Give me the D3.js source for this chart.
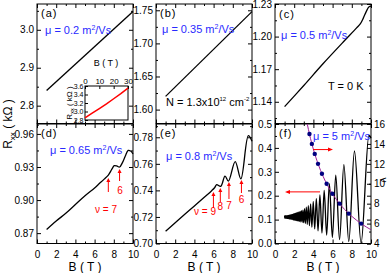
<!DOCTYPE html>
<html><head><meta charset="utf-8">
<script src="https://cdn.jsdelivr.net/npm/d3@7/dist/d3.min.js"></script>
<style>
body{margin:0;background:#fff}
svg{display:block}
text{font-family:"Liberation Sans",Arial,Helvetica,sans-serif}
</style>
</head><body>
<svg id="c" width="390" height="273"></svg>
<script>
// ---------------- DATA ----------------
const xTicks = [0, 2, 4, 6, 8, 10];
const xMinor = [1, 3, 5, 7, 9];

const bA = [1, 10], rA = [2.840, 3.048];
const bInset = [0, 5, 10, 15, 20, 25, 30];
const rInset = [2.85, 2.96, 3.07, 3.18, 3.30, 3.42, 3.55];
const insetXTicks = [0, 10, 20, 30];
const insetYTicks = [2.8, 3.0, 3.2, 3.4, 3.6];

const bB = [1, 10], rB = [1.620, 1.748];
const bC = [1, 3, 5, 7, 8.5, 8.9, 9.2, 9.5, 9.8, 10];
const rC = [1.1355, 1.155, 1.175, 1.194, 1.208, 1.212, 1.217, 1.223, 1.2275, 1.228];
const bD = [1, 2, 3, 4, 5, 6, 6.5, 7, 7.43, 7.8, 8.05, 8.3, 8.6, 8.9, 9.2, 9.5, 9.75, 10];
const rD = [0.8733, 0.881, 0.888, 0.896, 0.904, 0.911, 0.915, 0.919, 0.9227, 0.928, 0.9312, 0.931, 0.930, 0.934, 0.940, 0.945, 0.9445, 0.942];
const bE = [1, 2, 3, 4, 5, 5.8, 6.1, 6.32, 6.74, 7.19, 7.54, 8.25, 8.84, 9.62, 10];
const rE = [0.7092, 0.7156, 0.722, 0.7283, 0.7347, 0.7398, 0.742, 0.7443, 0.743, 0.7508, 0.747, 0.7617, 0.7487, 0.7812, 0.777];

// panel (f): extrema of the oscillating Rxx trace
const fB = [1.000,1.006,1.015,1.025,1.035,1.045,1.055,1.065,1.076,1.087,1.098,1.109,1.121,1.133,1.145,1.157,1.170,1.182,1.196,1.209,1.223,1.237,1.251,1.266,1.281,1.296,1.312,1.328,1.345,1.362,1.379,1.397,1.416,1.435,1.454,1.474,1.494,1.515,1.537,1.559,1.582,1.606,1.630,1.655,1.681,1.708,1.735,1.764,1.793,1.824,1.855,1.888,1.921,1.956,1.993,2.030,2.069,2.110,2.152,2.196,2.242,2.289,2.339,2.391,2.445,2.502,2.562,2.624,2.690,2.759,2.832,2.908,2.989,3.074,3.165,3.261,3.363,3.471,3.587,3.710,3.843,3.985,4.138,4.304,4.483,4.678,4.891,5.124,5.380,5.663,5.978,6.329,6.725,7.173,7.686,8.277,8.967,9.782,10.0];
const fR = [0.111,0.115,0.106,0.115,0.106,0.115,0.106,0.115,0.106,0.115,0.106,0.116,0.106,0.116,0.106,0.116,0.106,0.116,0.106,0.116,0.105,0.116,0.105,0.116,0.105,0.116,0.105,0.117,0.105,0.117,0.105,0.117,0.104,0.118,0.104,0.118,0.103,0.119,0.103,0.119,0.103,0.120,0.102,0.120,0.102,0.121,0.101,0.121,0.101,0.122,0.100,0.123,0.099,0.124,0.099,0.125,0.098,0.126,0.097,0.127,0.096,0.129,0.095,0.130,0.094,0.132,0.093,0.134,0.091,0.137,0.089,0.140,0.087,0.146,0.084,0.152,0.080,0.158,0.075,0.166,0.068,0.176,0.061,0.188,0.053,0.203,0.044,0.222,0.035,0.250,0.025,0.286,0.016,0.330,0.008,0.387,0.002,0.453,0.440];
// filling factor nu (right axis)
const nuB = [3.36, 3.6, 4, 4.5, 5, 5.5, 6, 7, 8, 9, 10];
const nuV = [16, 14.94, 13.45, 11.96, 10.76, 9.78, 8.97, 7.69, 6.73, 5.98, 5.38];
const dotB = [3.59, 3.84, 4.14, 4.48, 4.89, 5.38, 5.98, 6.73, 7.69, 8.97];
const dotNu = [15, 14, 13, 12, 11, 10, 9, 8, 7, 6];
const nuTicks = [4, 6, 8, 10, 12, 14, 16];

// ---------------- DRAW ----------------
const svg = d3.select("#c");
const BLUE = "#2a2aff", RED = "#ff0000";
const colX = [37, 156, 275], W = 96;
const rowY = [4, 124], H = 119.5;

function panel(col, row, dom, yT, yMinor, fmt, showX) {
  const x0 = colX[col], y0 = rowY[row];
  const x = d3.scaleLinear().domain([0, 10]).range([x0, x0 + W]);
  const y = d3.scaleLinear().domain(dom).range([y0 + H, y0]);
  const g = svg.append("g");
  g.append("rect").attr("x", x0).attr("y", y0).attr("width", W).attr("height", H)
    .attr("fill", "none").attr("stroke", "#000").attr("stroke-width", 1);
  const mk = (axis, tr) => { const a = g.append("g").attr("transform", tr).call(axis);
    a.select(".domain").remove(); a.selectAll("line").attr("stroke", "#000");
    a.selectAll("text").attr("font-size", 10).attr("fill", "#000").attr("font-family", "Liberation Sans, Arial"); return a; };
  mk(d3.axisLeft(y).tickValues(yT).tickFormat(d3.format(fmt)).tickSize(-4).tickPadding(3), `translate(${x0},0)`);
  mk(d3.axisLeft(y).tickValues(yMinor).tickFormat("").tickSize(-2), `translate(${x0},0)`);
  mk(d3.axisRight(y).tickValues(yT).tickFormat("").tickSize(-4), `translate(${x0 + W},0)`);
  mk(d3.axisRight(y).tickValues(yMinor).tickFormat("").tickSize(-2), `translate(${x0 + W},0)`);
  mk(d3.axisTop(x).tickValues(xTicks).tickFormat("").tickSize(-4), `translate(0,${y0})`);
  mk(d3.axisTop(x).tickValues(xMinor).tickFormat("").tickSize(-2), `translate(0,${y0})`);
  mk(d3.axisBottom(x).tickValues(xTicks).tickFormat(showX ? d3.format("d") : "").tickSize(-4).tickPadding(7), `translate(0,${y0 + H})`);
  mk(d3.axisBottom(x).tickValues(xMinor).tickFormat("").tickSize(-2), `translate(0,${y0 + H})`);
  return {x, y, g, x0, y0};
}
function curve(p, bs, rs, color, w, cv) {
  p.g.append("path").datum(bs.map((b, i) => [b, rs[i]]))
    .attr("d", d3.line().x(d => p.x(d[0])).y(d => p.y(d[1])).curve(cv || d3.curveCatmullRom.alpha(0.5)))
    .attr("fill", "none").attr("stroke", color).attr("stroke-width", w);
}
function txt(g, x, y, s, size, color, anchor) {
  return g.append("text").attr("x", x).attr("y", y).attr("font-size", size).attr("fill", color || "#000")
    .attr("text-anchor", anchor || "start").text(s);
}
function mu(g, x, y, val) {
  const t = g.append("text").attr("x", x).attr("y", y).attr("font-size", 11).attr("fill", BLUE);
  t.append("tspan").text("μ = " + val + " m");
  t.append("tspan").attr("font-size", 7).attr("dy", -4).text("2");
  t.append("tspan").attr("dy", 4).text("/Vs");
}
function arrowUp(g, x, yFrom, yTo) {
  g.append("line").attr("x1", x).attr("x2", x).attr("y1", yFrom).attr("y2", yTo + 3).attr("stroke", RED).attr("stroke-width", 1);
  g.append("path").attr("d", `M${x - 2},${yTo + 4}L${x},${yTo}L${x + 2},${yTo + 4}Z`).attr("fill", RED);
}

// (a)
const pA = panel(0, 0, [2.753, 3.068], [2.8, 2.9, 3.0], [2.75, 2.85, 2.95, 3.05], ".1f", false);
curve(pA, bA, rA, "#000", 1.3);
txt(pA.g, 41, 17, "(a)", 11).attr("letter-spacing", 1);
mu(pA.g, 45, 34, "0.2");
// inset
{
  const ix = d3.scaleLinear().domain([0, 30]).range([85, 128]);
  const iy = d3.scaleLinear().domain([2.8, 3.6]).range([120, 86]);
  const g = svg.append("g");
  g.append("rect").attr("x", 85).attr("y", 86).attr("width", 43).attr("height", 34).attr("fill", "#fff").attr("stroke", "#000");
  const mk = (axis, tr, fs) => { const a = g.append("g").attr("transform", tr).call(axis);
    a.select(".domain").remove(); a.selectAll("text").attr("font-size", fs).attr("fill", "#000"); return a; };
  mk(d3.axisTop(ix).tickValues(insetXTicks).tickFormat(d3.format("d")).tickSize(-3).tickPadding(2), "translate(0,86)", 8);
  mk(d3.axisLeft(iy).tickValues(insetYTicks).tickFormat(d3.format(".1f")).tickSize(-3).tickPadding(1.5), "translate(85,0)", 7);
  g.append("path").datum(bInset.map((b, i) => [b, rInset[i]]))
    .attr("d", d3.line().x(d => ix(d[0])).y(d => iy(d[1]))).attr("fill", "none").attr("stroke", RED).attr("stroke-width", 1.5);
  txt(g, 106, 66, "B ( T )", 9, "#000", "middle");
  const t = g.append("text").attr("transform", "translate(72,103) rotate(-90)").attr("font-size", 8).attr("text-anchor", "middle");
  t.append("tspan").text("R");
  t.append("tspan").attr("font-size", 5.5).attr("dy", 2).text("xx");
  t.append("tspan").attr("dy", -2).text(" ( kΩ )");
}

// (b)
const pB = panel(1, 0, [1.579, 1.7595], [1.60, 1.65, 1.70, 1.75], [1.575, 1.625, 1.675, 1.725], ".2f", false);
curve(pB, bB, rB, "#000", 1.3);
txt(pB.g, 160, 17, "(b)", 11).attr("letter-spacing", 1);
mu(pB.g, 162, 33, "0.35");
{
  const t = pB.g.append("text").attr("x", 166).attr("y", 106).attr("font-size", 11);
  t.append("tspan").text("N = 1.3x10");
  t.append("tspan").attr("font-size", 6).attr("dy", -5).text("12");
  t.append("tspan").attr("dy", 5).text(" cm");
  t.append("tspan").attr("font-size", 6).attr("dy", -5).text("-2");
}

// (c)
const pC = panel(2, 0, [1.12, 1.23], [1.14, 1.17, 1.20, 1.23], [1.125, 1.155, 1.185, 1.215], ".2f", false);
curve(pC, bC, rC, "#000", 1.3);
txt(pC.g, 279, 18, "(c)", 11).attr("letter-spacing", 1);
mu(pC.g, 281, 39, "0.5");
txt(pC.g, 328, 90, "T = 0 K", 11);

// (d)
const pD = panel(0, 1, [0.8606, 0.969], [0.87, 0.90, 0.93, 0.96], [0.885, 0.915, 0.945], ".2f", true);
curve(pD, bD, rD, "#000", 1.3);
txt(pD.g, 41, 137, "(d)", 11).attr("letter-spacing", 1);
mu(pD.g, 50, 154, "0.65");
arrowUp(pD.g, pD.x(7.43), 192, 178);
arrowUp(pD.g, pD.x(8.6), 181, 169);
txt(pD.g, 106, 213, "ν = 7", 10, RED, "middle");
txt(pD.g, 120, 194, "6", 10, RED, "middle");

// (e)
const pE = panel(1, 1, [0.70, 0.79], [0.70, 0.72, 0.74, 0.76, 0.78], [0.71, 0.73, 0.75, 0.77], ".2f", true);
curve(pE, bE, rE, "#000", 1.3);
txt(pE.g, 160, 137, "(e)", 11).attr("letter-spacing", 1);
mu(pE.g, 166, 160, "0.8");
arrowUp(pE.g, pE.x(5.98), 208, 192);
arrowUp(pE.g, pE.x(6.7), 202, 188);
arrowUp(pE.g, pE.x(7.6), 199, 182);
arrowUp(pE.g, pE.x(8.9), 193, 180);
txt(pE.g, 205, 215, "ν = 9", 10, RED, "middle");
txt(pE.g, pE.x(6.7), 210, "8", 10, RED, "middle");
txt(pE.g, pE.x(7.6), 209, "7", 10, RED, "middle");
txt(pE.g, pE.x(8.9), 203, "6", 10, RED, "middle");

// (f)
const pF = panel(2, 1, [0, 0.5], [0, 0.1, 0.2, 0.3, 0.4, 0.5], [0.05, 0.15, 0.25, 0.35, 0.45], ".1f", true);
curve(pF, fB, fR, "#000", 1.3, d3.curveMonotoneX);
{
  const yN = d3.scaleLinear().domain([4, 16]).range([pF.y0 + H, pF.y0]);
  const a = pF.g.append("g").attr("transform", `translate(${colX[2] + W},0)`)
    .call(d3.axisRight(yN).tickValues(nuTicks).tickFormat(d3.format("d")).tickSize(-4).tickPadding(3));
  a.select(".domain").remove();
  a.selectAll("text").attr("font-size", 10).attr("fill", "#000");
  pF.g.append("path").datum(nuB.map((b, i) => [b, nuV[i]]))
    .attr("d", d3.line().x(d => pF.x(d[0])).y(d => yN(d[1])).curve(d3.curveMonotoneX))
    .attr("fill", "none").attr("stroke", "#a0209a").attr("stroke-width", 1);
  pF.g.selectAll("circle.dot").data(dotB.map((b, i) => [b, dotNu[i]])).enter().append("circle")
    .attr("cx", d => pF.x(d[0])).attr("cy", d => yN(d[1])).attr("r", 2.2).attr("fill", "#000080");
  const ay1 = pF.y(0.393), ay2 = pF.y(0.216);
  pF.g.append("line").attr("x1", 313).attr("x2", 329).attr("y1", ay1).attr("y2", ay1).attr("stroke", RED);
  pF.g.append("path").attr("d", `M328,${ay1 - 2}L333,${ay1}L328,${ay1 + 2}Z`).attr("fill", RED);
  pF.g.append("line").attr("x1", 320).attr("x2", 289).attr("y1", ay2).attr("y2", ay2).attr("stroke", RED);
  pF.g.append("path").attr("d", `M290,${ay2 - 2}L285,${ay2}L290,${ay2 + 2}Z`).attr("fill", RED);
  pF.g.append("text").attr("transform", "translate(380,180) rotate(90)").attr("font-size", 10).attr("text-anchor", "middle").text("ν");
}
txt(pF.g, 279, 137, "(f)", 11).attr("letter-spacing", 1);
mu(pF.g, 313, 140, "5");

// axis titles
[0, 1, 2].forEach(c => txt(svg, colX[c] + W / 2, 271, "B ( T )", 12, "#000", "middle"));
{
  const t = svg.append("text").attr("transform", "translate(12,124) rotate(-90)").attr("font-size", 12).attr("text-anchor", "middle");
  t.append("tspan").text("R");
  t.append("tspan").attr("font-size", 8).attr("dy", 3).text("xx");
  t.append("tspan").attr("dy", -3).text(" ( kΩ )");
}
</script>
</body></html>
